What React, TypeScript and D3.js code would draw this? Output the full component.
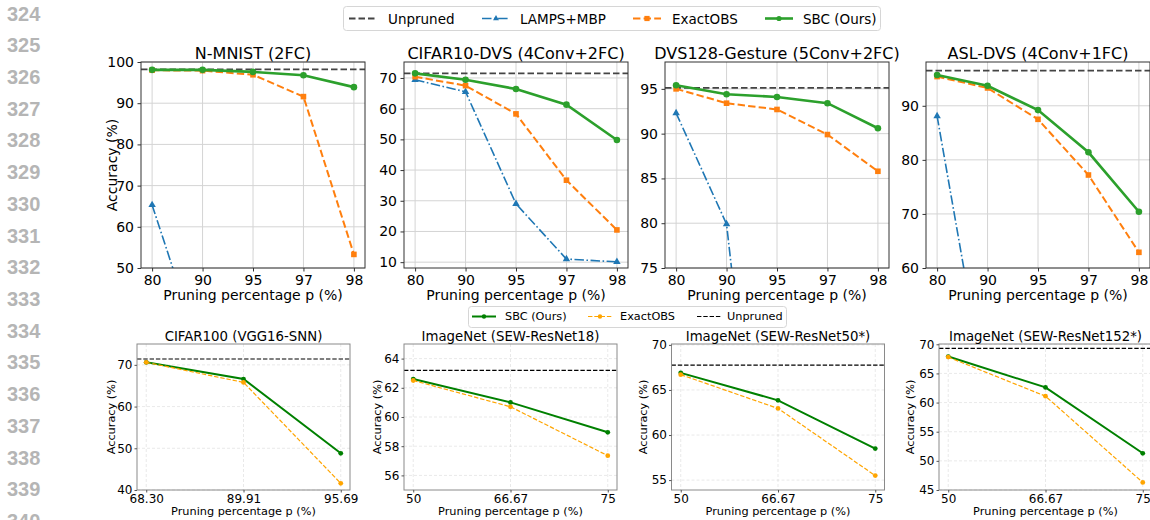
import React, { useEffect, useRef } from "react";
import * as d3 from "d3";

// top row: pruning percentage p (%)
const topCategories = ["80", "90", "95", "97", "98"];

const nmnistUnpruned = 98.2;
const nmnistLAMPS = [65.3, 28.0, 14.0, 10.5, 10.0];
const nmnistOBS = [98.0, 97.9, 96.9, 91.6, 53.3];
const nmnistSBC = [98.1, 98.1, 97.6, 96.8, 93.9];
const nmnistTicks = [50, 60, 70, 80, 90, 100];

const cifar10Unpruned = 71.5;
const cifar10LAMPS = [69.4, 65.5, 29.0, 11.0, 10.1];
const cifar10OBS = [70.4, 67.5, 58.3, 36.7, 20.5];
const cifar10SBC = [71.5, 69.4, 66.4, 61.3, 49.8];
const cifar10Ticks = [10, 20, 30, 40, 50, 60, 70];

const gestureUnpruned = 95.1;
const gestureLAMPS = [92.3, 79.9, 30.0, 12.0, 10.0];
const gestureOBS = [95.0, 93.4, 92.7, 89.9, 85.8];
const gestureSBC = [95.4, 94.4, 94.1, 93.4, 90.6];
const gestureTicks = [75, 80, 85, 90, 95];

const aslUnpruned = 96.5;
const aslLAMPS = [88.1, 35.0, 12.0, 8.0, 5.0];
const aslOBS = [95.4, 93.3, 87.5, 77.2, 62.9];
const aslSBC = [95.7, 93.7, 89.2, 81.4, 70.4];
const aslTicks = [60, 70, 80, 90];

// bottom row
const cifar100Categories = ["68.30", "89.91", "95.69"];
const imagenetCategories = ["50", "66.67", "75"];

const cifar100Unpruned = 71.4;
const cifar100SBC = [70.6, 66.6, 48.8];
const cifar100OBS = [70.6, 65.8, 41.6];
const cifar100Ticks = [40, 50, 60, 70];

const r18Unpruned = 63.2;
const r18SBC = [62.6, 61.0, 58.95];
const r18OBS = [62.5, 60.7, 57.35];
const r18Ticks = [56, 58, 60, 62, 64];

const r50Unpruned = 67.75;
const r50SBC = [66.9, 63.85, 58.5];
const r50OBS = [66.7, 62.95, 55.5];
const r50Ticks = [55, 60, 65, 70];

const r152Unpruned = 69.3;
const r152SBC = [67.9, 62.6, 51.3];
const r152OBS = [67.8, 61.1, 46.3];
const r152Ticks = [45, 50, 55, 60, 65, 70];

const lineNumbers = d3.range(324, 341);

const FONT = "DejaVu Sans";
const BLUE = "#1f77b4";
const ORANGE = "#ff7f0e";
const GREEN = "#2ca02c";

const topPanels = [
  { title: "N-MNIST (2FC)", left: 141, yDomain: [50, 100], ticks: nmnistTicks, unpruned: nmnistUnpruned, lamps: nmnistLAMPS, obs: nmnistOBS, sbc: nmnistSBC },
  { title: "CIFAR10-DVS (4Conv+2FC)", left: 404, yDomain: [8.1, 75.2], ticks: cifar10Ticks, unpruned: cifar10Unpruned, lamps: cifar10LAMPS, obs: cifar10OBS, sbc: cifar10SBC },
  { title: "DVS128-Gesture (5Conv+2FC)", left: 665, yDomain: [75, 98], ticks: gestureTicks, unpruned: gestureUnpruned, lamps: gestureLAMPS, obs: gestureOBS, sbc: gestureSBC },
  { title: "ASL-DVS (4Conv+1FC)", left: 926, yDomain: [60, 98.1], ticks: aslTicks, unpruned: aslUnpruned, lamps: aslLAMPS, obs: aslOBS, sbc: aslSBC },
];

const bottomPanels = [
  { title: "CIFAR100 (VGG16-SNN)", left: 137, labelX: 111, cats: cifar100Categories, yDomain: [40, 75], ticks: cifar100Ticks, unpruned: cifar100Unpruned, sbc: cifar100SBC, obs: cifar100OBS },
  { title: "ImageNet (SEW-ResNet18)", left: 404, labelX: 377, cats: imagenetCategories, yDomain: [55, 65], ticks: r18Ticks, unpruned: r18Unpruned, sbc: r18SBC, obs: r18OBS },
  { title: "ImageNet (SEW-ResNet50*)", left: 671.5, labelX: 643.5, cats: imagenetCategories, yDomain: [53.9, 70.1], ticks: r50Ticks, unpruned: r50Unpruned, sbc: r50SBC, obs: r50OBS },
  { title: "ImageNet (SEW-ResNet152*)", left: 939, labelX: 910.5, cats: imagenetCategories, yDomain: [45, 70.05], ticks: r152Ticks, unpruned: r152Unpruned, sbc: r152SBC, obs: r152OBS },
];

function styleAxis(g, size) {
  g.attr("font-family", FONT).attr("font-size", size);
  g.select(".domain").remove();
  g.selectAll("text").attr("fill", "#000");
}

function marker(g, kind, cx, cy, s, color) {
  if (kind === "circle") {
    g.append("circle").attr("cx", cx).attr("cy", cy).attr("r", s).attr("fill", color);
  } else if (kind === "square") {
    g.append("rect").attr("x", cx - s).attr("y", cy - s).attr("width", 2 * s).attr("height", 2 * s).attr("fill", color);
  } else {
    const tri = d3.symbol().type(d3.symbolTriangle).size(s * s * 2.2);
    g.append("path").attr("d", tri()).attr("transform", `translate(${cx},${cy})`).attr("fill", color);
  }
}

function drawSeries(g, x, y, values, opts) {
  const line = d3.line<number>().x((d, i) => x(i)).y((d) => y(d));
  g.append("path")
    .datum(values)
    .attr("d", line)
    .attr("fill", "none")
    .attr("stroke", opts.color)
    .attr("stroke-width", opts.width)
    .attr("stroke-dasharray", opts.dash || null);
  values.forEach((v, i) => marker(g, opts.marker, x(i), y(v), opts.size, opts.color));
}

function drawTop(svg, p, idx) {
  const top = 62, h = 206, w = 224;
  const bottom = top + h;
  const x = d3.scaleLinear().domain([-0.22, topCategories.length - 1 + 0.22]).range([p.left, p.left + w]);
  const y = d3.scaleLinear().domain(p.yDomain).range([bottom, top]);

  const clipId = "clip-top-" + idx;
  svg.append("clipPath").attr("id", clipId).append("rect")
    .attr("x", p.left).attr("y", top).attr("width", w).attr("height", h);

  // grid
  const grid = svg.append("g").attr("stroke", "#d4d4d4").attr("stroke-width", 1);
  topCategories.forEach((c, i) => {
    grid.append("line").attr("x1", x(i)).attr("x2", x(i)).attr("y1", top).attr("y2", bottom);
  });
  p.ticks.forEach((t) => {
    grid.append("line").attr("x1", p.left).attr("x2", p.left + w).attr("y1", y(t)).attr("y2", y(t));
  });

  const plot = svg.append("g").attr("clip-path", `url(#${clipId})`);
  plot.append("line")
    .attr("x1", p.left).attr("x2", p.left + w)
    .attr("y1", y(p.unpruned)).attr("y2", y(p.unpruned))
    .attr("stroke", "#444").attr("stroke-width", 1.8).attr("stroke-dasharray", "6.5,3");
  drawSeries(plot, x, y, p.lamps, { color: BLUE, width: 1.6, dash: "9.5,2.5,1.6,2.5", marker: "triangle", size: 3.3 });
  drawSeries(plot, x, y, p.obs, { color: ORANGE, width: 2, dash: "7.4,3.2", marker: "square", size: 2.8 });
  drawSeries(plot, x, y, p.sbc, { color: GREEN, width: 2.6, marker: "circle", size: 3.3 });

  svg.append("rect").attr("x", p.left).attr("y", top).attr("width", w).attr("height", h)
    .attr("fill", "none").attr("stroke", "#333").attr("stroke-width", 1);

  const gx = svg.append("g").attr("transform", `translate(0,${bottom})`)
    .call(d3.axisBottom(x).tickValues(d3.range(topCategories.length)).tickFormat((i) => topCategories[i]).tickSize(3.5).tickPadding(3.5));
  styleAxis(gx, 14);
  gx.selectAll("line").attr("stroke", "#333");
  const gy = svg.append("g").attr("transform", `translate(${p.left},0)`)
    .call(d3.axisLeft(y).tickValues(p.ticks).tickSize(3.5).tickPadding(3.5));
  styleAxis(gy, 14);
  gy.selectAll("line").attr("stroke", "#333");

  svg.append("text").attr("x", p.left + w / 2).attr("y", 58.5).attr("text-anchor", "middle")
    .attr("font-family", FONT).attr("font-size", 16).text(p.title);
  svg.append("text").attr("x", p.left + w / 2).attr("y", 299.5).attr("text-anchor", "middle")
    .attr("font-family", FONT).attr("font-size", 14).text("Pruning percentage p (%)");
  if (idx === 0) {
    svg.append("text").attr("transform", `translate(112,${top + h / 2}) rotate(-90)`)
      .attr("text-anchor", "middle").attr("dominant-baseline", "central")
      .attr("font-family", FONT).attr("font-size", 14).text("Accuracy (%)");
  }
}

function drawBottom(svg, p, idx) {
  const top = 344, h = 146, w = 213;
  const bottom = top + h;
  const x = d3.scaleLinear().domain([-0.095, p.cats.length - 1 + 0.095]).range([p.left, p.left + w]);
  const y = d3.scaleLinear().domain(p.yDomain).range([bottom, top]);

  const clipId = "clip-bottom-" + idx;
  svg.append("clipPath").attr("id", clipId).append("rect")
    .attr("x", p.left).attr("y", top).attr("width", w).attr("height", h);

  const grid = svg.append("g").attr("stroke", "#b0b0b0").attr("stroke-opacity", 0.35)
    .attr("stroke-width", 0.8).attr("stroke-dasharray", "3,2");
  p.cats.forEach((c, i) => {
    grid.append("line").attr("x1", x(i)).attr("x2", x(i)).attr("y1", top).attr("y2", bottom);
  });
  p.ticks.forEach((t) => {
    grid.append("line").attr("x1", p.left).attr("x2", p.left + w).attr("y1", y(t)).attr("y2", y(t));
  });

  const plot = svg.append("g").attr("clip-path", `url(#${clipId})`);
  drawSeries(plot, x, y, p.sbc, { color: "#008000", width: 2, marker: "circle", size: 2.4 });
  drawSeries(plot, x, y, p.obs, { color: "#ffa500", width: 1.2, dash: "4.4,1.9", marker: "circle", size: 2.4 });
  plot.append("line")
    .attr("x1", p.left).attr("x2", p.left + w)
    .attr("y1", y(p.unpruned)).attr("y2", y(p.unpruned))
    .attr("stroke", "#000").attr("stroke-width", 1.2).attr("stroke-dasharray", "4.4,1.9");

  svg.append("rect").attr("x", p.left).attr("y", top).attr("width", w).attr("height", h)
    .attr("fill", "none").attr("stroke", "#8a8a8a").attr("stroke-width", 1);

  const gx = svg.append("g").attr("transform", `translate(0,${bottom})`)
    .call(d3.axisBottom(x).tickValues(d3.range(p.cats.length)).tickFormat((i) => p.cats[i]).tickSize(2.5).tickPadding(1.5));
  styleAxis(gx, 12);
  gx.selectAll("line").attr("stroke", "#555");
  const gy = svg.append("g").attr("transform", `translate(${p.left},0)`)
    .call(d3.axisLeft(y).tickValues(p.ticks).tickSize(2.5).tickPadding(2));
  styleAxis(gy, 12);
  gy.selectAll("line").attr("stroke", "#555");

  svg.append("text").attr("x", p.left + w / 2).attr("y", 341).attr("text-anchor", "middle")
    .attr("font-family", FONT).attr("font-size", 13.3).text(p.title);
  svg.append("text").attr("x", p.left + w / 2).attr("y", 515).attr("text-anchor", "middle")
    .attr("font-family", FONT).attr("font-size", 11.3).text("Pruning percentage p (%)");
  svg.append("text").attr("transform", `translate(${p.labelX},${top + h / 2}) rotate(-90)`)
    .attr("text-anchor", "middle").attr("dominant-baseline", "central")
    .attr("font-family", FONT).attr("font-size", 11.3).text("Accuracy (%)");
}

function drawLegends(svg) {
  // top legend
  const lg = svg.append("g");
  lg.append("rect").attr("x", 343.5).attr("y", 6.5).attr("width", 537).attr("height", 24).attr("rx", 3)
    .attr("fill", "#fff").attr("stroke", "#d6d6d6");
  const cy = 18.5;
  const topItems = [
    { label: "Unpruned", x: 349, text: 388, color: "#444", width: 1.8, dash: "6.5,3", marker: null },
    { label: "LAMPS+MBP", x: 482, text: 520, color: BLUE, width: 1.6, dash: "9.5,2.5,1.6,2.5", marker: "triangle" },
    { label: "ExactOBS", x: 633, text: 672, color: ORANGE, width: 2, dash: "7.4,3.2", marker: "square" },
    { label: "SBC (Ours)", x: 765, text: 803, color: GREEN, width: 2.6, dash: null, marker: "circle" },
  ];
  topItems.forEach((it) => {
    lg.append("line").attr("x1", it.x).attr("x2", it.x + 28).attr("y1", cy).attr("y2", cy)
      .attr("stroke", it.color).attr("stroke-width", it.width).attr("stroke-dasharray", it.dash);
    if (it.marker) marker(lg, it.marker, it.x + 14, cy, 2.6, it.color);
    lg.append("text").attr("x", it.text).attr("y", cy).attr("dominant-baseline", "central")
      .attr("font-family", FONT).attr("font-size", 13.5).text(it.label);
  });

  // bottom legend
  const bl = svg.append("g");
  bl.append("rect").attr("x", 468.5).attr("y", 306.5).attr("width", 318).attr("height", 21).attr("rx", 3)
    .attr("fill", "#fff").attr("stroke", "#d6d6d6");
  const by = 316.5;
  const bottomItems = [
    { label: "SBC (Ours)", x: 472, text: 505, color: "#008000", width: 2, dash: null, marker: true },
    { label: "ExactOBS", x: 588, text: 620, color: "#ffa500", width: 1.2, dash: "4.4,1.9", marker: true },
    { label: "Unpruned", x: 697, text: 727, color: "#000", width: 1.2, dash: "4.4,1.9", marker: false },
  ];
  bottomItems.forEach((it) => {
    bl.append("line").attr("x1", it.x).attr("x2", it.x + 24).attr("y1", by).attr("y2", by)
      .attr("stroke", it.color).attr("stroke-width", it.width).attr("stroke-dasharray", it.dash);
    if (it.marker) marker(bl, "circle", it.x + 12, by, 2.2, it.color);
    bl.append("text").attr("x", it.text).attr("y", by).attr("dominant-baseline", "central")
      .attr("font-family", FONT).attr("font-size", 11.3).text(it.label);
  });
}

export default function App() {
  const ref = useRef<SVGSVGElement>(null);

  useEffect(() => {
    const svg = d3.select(ref.current);
    svg.selectAll("*").remove();

    svg.append("rect").attr("width", 1150).attr("height", 520).attr("fill", "#fff");

    // page line numbers on the left (the last one is cut by the page edge, as in the source)
    svg.append("g").selectAll("text").data(lineNumbers).enter().append("text")
      .attr("x", 7)
      .attr("y", (d, i) => 13.5 + i * 31.72)
      .attr("dominant-baseline", "central")
      .attr("font-family", "Liberation Sans")
      .attr("font-weight", "bold")
      .attr("font-size", 20)
      .attr("fill", "#b5b5b5")
      .text((d) => d);

    topPanels.forEach((p, i) => drawTop(svg, p, i));
    bottomPanels.forEach((p, i) => drawBottom(svg, p, i));
    drawLegends(svg);
  }, []);

  return (
    <svg
      ref={ref}
      width={1150}
      height={520}
      style={{ position: "absolute", left: 0, top: 0, display: "block" }}
    />
  );
}
